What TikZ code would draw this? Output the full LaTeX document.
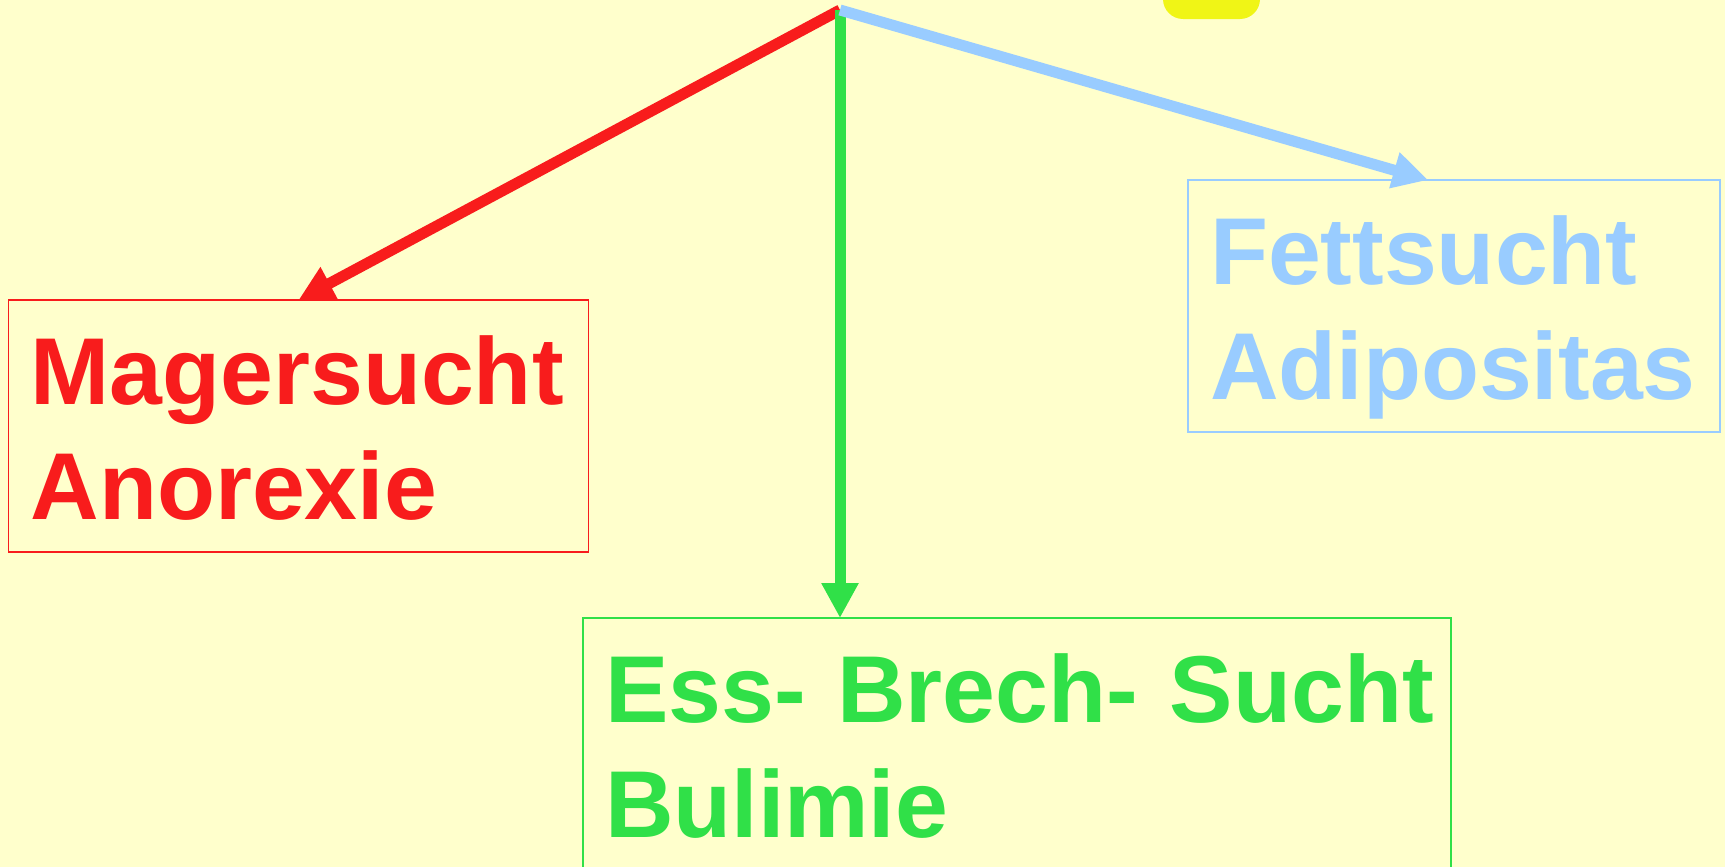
\documentclass[tikz,border=0pt]{standalone}
\usepackage{fontspec}
\setmainfont{Liberation Sans}
\usetikzlibrary{arrows.meta,calc}
\definecolor{bg}{HTML}{FFFFCC}
\definecolor{magred}{HTML}{F81C1C}
\definecolor{bulgreen}{HTML}{30E048}
\definecolor{fatblue}{HTML}{99CCFF}
\definecolor{sunyellow}{HTML}{F0F516}

\begin{document}
\begin{tikzpicture}[x=0.5pt,y=-0.5pt,
	sucht/.style={draw,anchor=north west,line width=0.75pt,outer sep=0pt,
		inner xsep=11pt,inner ysep=0pt,text height=52pt,text depth=74pt,
		align=left,font=\fontsize{47.5}{57.5}\selectfont\bfseries},
	pfeil/.style={line width=5.5pt,-{Triangle[length=17.5pt,width=17.5pt]}}]
	% background
	\fill[bg] (0,0) rectangle (1725,867);
	\useasboundingbox (0,0) rectangle (1725,867);
	\fill[sunyellow,rounded corners=10pt] (1163,-40) rectangle (1260,19);
	% boxes
	\coordinate (top) at (840,10);
	\node[sucht,magred,text width=268pt] (mager) at (8.5,300) {Magersucht\\Anorexie};
	\node[sucht,fatblue,text width=244pt] (fett) at (1188,180) {Fettsucht\\Adipositas};
	\node[sucht,bulgreen,text width=412pt] (ess) at (583,618) {\mbox{Ess- Brech- Sucht}\\Bulimie};
	% arrows
	\draw[pfeil,magred] (top) -- (mager.north);
	\draw[pfeil,bulgreen] (top) -- (top |- ess.north);
	\draw[pfeil,fatblue] (top) -- ($(fett.north west)+(120pt,0)$);
\end{tikzpicture}
\end{document}
